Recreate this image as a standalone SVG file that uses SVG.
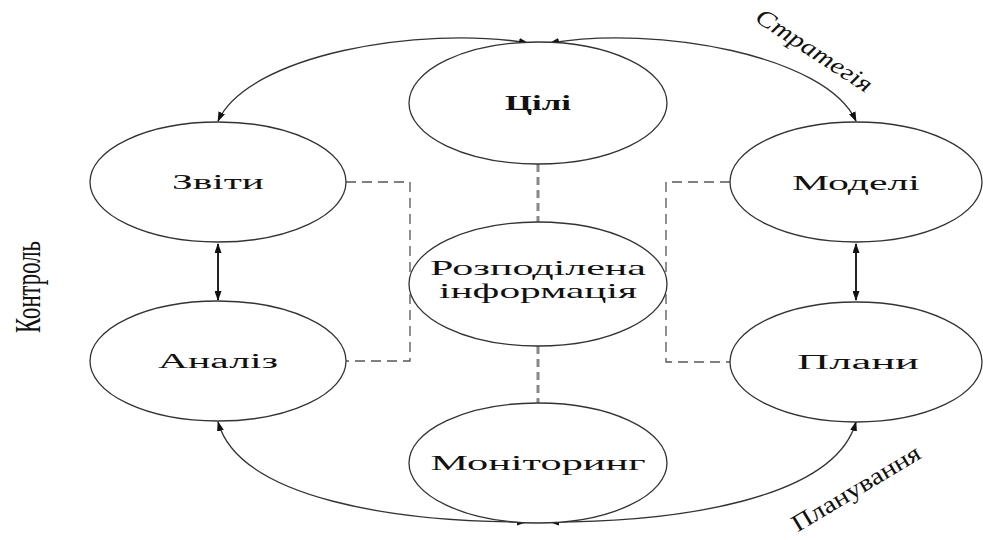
<svg xmlns="http://www.w3.org/2000/svg" width="983" height="540" viewBox="0 0 983 540">
<style>
.node ellipse{fill:#fff;stroke:#333;stroke-width:1.3}
.lbl{font-family:"Liberation Serif","DejaVu Serif",serif;fill:#111;text-anchor:middle}
.arc{fill:none;stroke:#333;stroke-width:1.3;marker-start:url(#ah);marker-end:url(#ah)}
.dbl{fill:none;stroke:#222;stroke-width:2;marker-start:url(#ah);marker-end:url(#ah)}
.dside{fill:none;stroke:#555;stroke-width:1.3;stroke-dasharray:10 6}
.dmid{fill:none;stroke:#888;stroke-width:3;stroke-dasharray:8 5}
</style>
<defs>
<marker id="ah" viewBox="0 0 10 7" refX="9" refY="3.5" markerWidth="10" markerHeight="7" markerUnits="userSpaceOnUse" orient="auto-start-reverse">
<path d="M0,0 L10,3.5 L0,7 z" fill="#111"/>
</marker>
</defs>
<rect width="983" height="540" fill="#fff"/>
<g id="connectors">
<path class="dmid" d="M538,164 V222"/>
<path class="dmid" d="M538,346 V403"/>
<path class="dside" d="M346,182 H410 V361 H346"/>
<path class="dside" d="M730,182 H666 V362 H730"/>
<path class="arc" d="M218,121 C248,55 420,25 528,43"/>
<path class="arc" d="M856,121 C826,55 656,25 550,43"/>
<path class="arc" d="M218,422 C240,500 400,522 526,522"/>
<path class="arc" d="M856,422 C834,500 676,522 550,522"/>
<path class="dbl" d="M218,244 V300"/>
<path class="dbl" d="M856,244 V300"/>
</g>
<g id="node-tsili" class="node"><ellipse cx="538" cy="103" rx="129" ry="61"/><text class="lbl" x="538" y="110" font-size="20" font-weight="bold" textLength="66" lengthAdjust="spacingAndGlyphs">Цілі</text></g>
<g id="node-zvity" class="node"><ellipse cx="218" cy="182" rx="128" ry="60"/><text class="lbl" x="218" y="189" font-size="20" textLength="92" lengthAdjust="spacingAndGlyphs">Звіти</text></g>
<g id="node-analiz" class="node"><ellipse cx="218" cy="361" rx="128" ry="60"/><text class="lbl" x="218" y="368" font-size="20" textLength="120" lengthAdjust="spacingAndGlyphs">Аналіз</text></g>
<g id="node-modeli" class="node"><ellipse cx="856" cy="182" rx="126" ry="60"/><text class="lbl" x="856" y="190" font-size="20" textLength="128" lengthAdjust="spacingAndGlyphs">Моделі</text></g>
<g id="node-plany" class="node"><ellipse cx="856" cy="362" rx="126" ry="60"/><text class="lbl" x="858" y="369" font-size="20" textLength="122" lengthAdjust="spacingAndGlyphs">Плани</text></g>
<g id="node-rozpodilena" class="node"><ellipse cx="538" cy="284" rx="129" ry="62"/><text class="lbl" x="538" y="275" font-size="21" textLength="216" lengthAdjust="spacingAndGlyphs">Розподілена</text><text class="lbl" x="538" y="298" font-size="21" textLength="198" lengthAdjust="spacingAndGlyphs">інформація</text></g>
<g id="node-monitoring" class="node"><ellipse cx="538" cy="463" rx="129" ry="60"/><text class="lbl" x="538" y="470" font-size="21" textLength="215" lengthAdjust="spacingAndGlyphs">Моніторинг</text></g>
<g id="label-kontrol"><text class="lbl" transform="translate(40,287) rotate(-90)" font-size="36" textLength="92" lengthAdjust="spacingAndGlyphs">Контроль</text></g>
<g id="label-stratehiia"><text class="lbl" transform="translate(810,57) rotate(33)" font-size="24" font-style="italic" textLength="134" lengthAdjust="spacingAndGlyphs">Стратегія</text></g>
<g id="label-planuvannia"><text class="lbl" transform="translate(860,495) rotate(-31)" font-size="24" textLength="146" lengthAdjust="spacingAndGlyphs">Планування</text></g>
</svg>
